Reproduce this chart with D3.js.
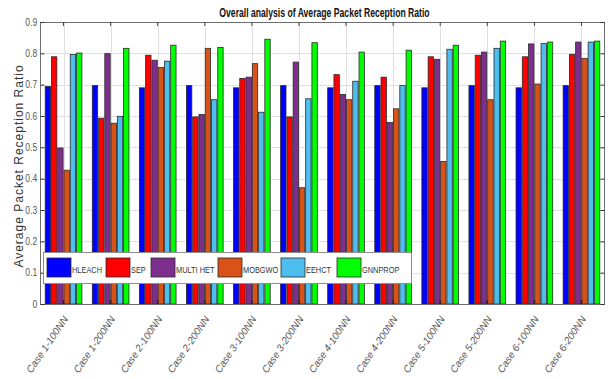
<!DOCTYPE html>
<html>
<head>
<meta charset="utf-8">
<script src="https://cdn.jsdelivr.net/npm/d3@7"></script>
<style>
  body { margin: 0; background: #fff; }
  svg { display: block; }
</style>
</head>
<body>
<svg id="chart" width="611" height="379"></svg>
<script>
// Scenario labels along the x axis
const categories = [
  "Case 1-100NN", "Case 1-200NN", "Case 2-100NN", "Case 2-200NN",
  "Case 3-100NN", "Case 3-200NN", "Case 4-100NN", "Case 4-200NN",
  "Case 5-100NN", "Case 5-200NN", "Case 6-100NN", "Case 6-200NN"
];

// Protocol names (legend order)
const seriesNames = ["HLEACH", "SEP", "MULTI HET", "MOBGWO", "EEHCT", "GNNPROP"];

// Average packet reception ratio per protocol, one value per scenario
const hleach  = [0.694, 0.697, 0.690, 0.697, 0.690, 0.697, 0.690, 0.697, 0.690, 0.697, 0.690, 0.697];
const sep     = [0.789, 0.593, 0.794, 0.597, 0.720, 0.597, 0.732, 0.724, 0.789, 0.794, 0.789, 0.797];
const multiHet= [0.498, 0.799, 0.778, 0.605, 0.724, 0.772, 0.669, 0.579, 0.781, 0.804, 0.830, 0.836];
const mobgwo  = [0.427, 0.577, 0.755, 0.816, 0.767, 0.371, 0.652, 0.623, 0.455, 0.652, 0.702, 0.784];
const eehct   = [0.796, 0.599, 0.775, 0.652, 0.612, 0.655, 0.711, 0.697, 0.813, 0.816, 0.831, 0.836];
const gnnprop = [0.801, 0.816, 0.826, 0.819, 0.845, 0.834, 0.804, 0.810, 0.826, 0.839, 0.836, 0.839];

const seriesValues = [hleach, sep, multiHet, mobgwo, eehct, gnnprop];
const seriesColors = ["#0000ff", "#ff0000", "#7e2f8e", "#d95319", "#4dbeee", "#00ff00"];

// Y axis ticks
const yTicks = [0, 0.1, 0.2, 0.3, 0.4, 0.5, 0.6, 0.7, 0.8, 0.9];

const titleText = "Overall analysis of Average Packet Reception Ratio";
const yLabelText = "Average Packet Reception Ratio";

// Plot frame
const plot = { left: 40, right: 605, top: 22, bottom: 304 };
const sans = "'Liberation Sans', Arial, sans-serif";

const svg = d3.select("#chart");

const xGroup = d3.scaleBand()
  .domain(categories)
  .range([plot.left, plot.right])
  .padding(0);

const xSeries = d3.scaleBand()
  .domain(seriesNames)
  .range([0, xGroup.bandwidth()])
  .paddingInner(0.14)
  .paddingOuter(0.83);

const y = d3.scaleLinear()
  .domain([0, 0.9])
  .range([plot.bottom, plot.top]);

const groupCenter = c => xGroup(c) + xGroup.bandwidth() / 2;

// Grid
const grid = svg.append("g").attr("class", "grid");
grid.selectAll("line.h")
  .data(yTicks.slice(1, -1))
  .join("line")
  .attr("class", "h")
  .attr("x1", plot.left).attr("x2", plot.right)
  .attr("y1", d => Math.round(y(d)) + 0.5).attr("y2", d => Math.round(y(d)) + 0.5)
  .attr("stroke", "#e0e0e0").attr("stroke-width", 1);
grid.selectAll("line.v")
  .data(categories)
  .join("line")
  .attr("class", "v")
  .attr("x1", d => Math.round(groupCenter(d)) + 0.5).attr("x2", d => Math.round(groupCenter(d)) + 0.5)
  .attr("y1", plot.top).attr("y2", plot.bottom)
  .attr("stroke", "#e0e0e0").attr("stroke-width", 1);

// Bars
const groups = svg.append("g").attr("class", "bars")
  .selectAll("g")
  .data(categories)
  .join("g")
  .attr("transform", d => `translate(${xGroup(d)},0)`);

groups.selectAll("rect")
  .data((c, i) => seriesNames.map((s, k) => ({ s, k, v: seriesValues[k][i] })))
  .join("rect")
  .attr("x", d => xSeries(d.s))
  .attr("width", xSeries.bandwidth())
  .attr("y", d => y(d.v))
  .attr("height", d => y(0) - y(d.v))
  .attr("fill", d => seriesColors[d.k])
  .attr("stroke", "#2a2a2a")
  .attr("stroke-width", 0.8);

// Axis box and ticks
const axes = svg.append("g").attr("class", "axes");
axes.append("rect")
  .attr("x", plot.left + 0.5).attr("y", plot.top + 0.5)
  .attr("width", plot.right - plot.left - 1).attr("height", plot.bottom - plot.top)
  .attr("fill", "none").attr("stroke", "#6e6e6e").attr("stroke-width", 1);

const yAxisLeft = d3.axisLeft(y).tickValues(yTicks).tickFormat(d3.format("")).tickSizeInner(-4).tickSizeOuter(0).tickPadding(4);
const gy = axes.append("g").attr("transform", `translate(${plot.left + 0.5},0)`).call(yAxisLeft);
gy.select(".domain").remove();
gy.selectAll(".tick line").attr("stroke", "#333");
gy.selectAll(".tick text")
  .attr("font-family", sans).attr("font-size", 10).attr("fill", "#555")
  .attr("transform", "scale(0.85,1)");

const yAxisRight = d3.axisRight(y).tickValues(yTicks).tickFormat("").tickSizeInner(-4).tickSizeOuter(0);
const gyr = axes.append("g").attr("transform", `translate(${plot.right - 0.5},0)`).call(yAxisRight);
gyr.select(".domain").remove();
gyr.selectAll(".tick line").attr("stroke", "#333");

// bottom and top tick marks at group centres
axes.selectAll("line.bt")
  .data(categories)
  .join("line")
  .attr("class", "bt")
  .attr("x1", d => groupCenter(d)).attr("x2", d => groupCenter(d))
  .attr("y1", plot.bottom).attr("y2", plot.bottom - 4)
  .attr("stroke", "#222").attr("stroke-width", 1.2);
axes.selectAll("line.tt")
  .data(categories)
  .join("line")
  .attr("class", "tt")
  .attr("x1", d => groupCenter(d)).attr("x2", d => groupCenter(d))
  .attr("y1", plot.top).attr("y2", plot.top + 4)
  .attr("stroke", "#444").attr("stroke-width", 1);

// Rotated category labels
svg.append("g").attr("class", "xlabels")
  .selectAll("text")
  .data(categories)
  .join("text")
  .attr("transform", d => `translate(${groupCenter(d) + 5},${plot.bottom + 15}) rotate(-56)`)
  .attr("text-anchor", "end")
  .attr("font-family", sans)
  .attr("font-style", "italic")
  .attr("font-size", 10)
  .attr("fill", "#555")
  .text(d => d);

// Title
svg.append("text")
  .attr("transform", `translate(${(plot.left + plot.right) / 2 + 2},16.5) scale(0.72,1)`)
  .attr("text-anchor", "middle")
  .attr("font-family", sans)
  .attr("font-weight", "bold")
  .attr("font-size", 12)
  .attr("fill", "#111")
  .text(titleText);

// Y label
svg.append("text")
  .attr("transform", `translate(23,166) rotate(-90)`)
  .attr("text-anchor", "middle")
  .attr("font-family", sans)
  .attr("font-size", 12)
  .attr("letter-spacing", 1)
  .attr("fill", "#333")
  .text(yLabelText);

// Legend
const legend = svg.append("g").attr("class", "legend");
const legendBox = { x: 43, y: 252, w: 368, h: 31 };
legend.append("rect")
  .attr("x", legendBox.x + 0.5).attr("y", legendBox.y + 0.5)
  .attr("width", legendBox.w).attr("height", legendBox.h)
  .attr("fill", "#fff").attr("stroke", "#8c8c8c").attr("stroke-width", 1);

const legendOffsets = [0, 59, 104, 171, 234, 290];
const items = legend.selectAll("g.item")
  .data(seriesNames)
  .join("g")
  .attr("class", "item")
  .attr("transform", (d, i) => `translate(${legendBox.x + 4 + legendOffsets[i]},${legendBox.y + 6})`);
items.append("rect")
  .attr("width", 24).attr("height", 19)
  .attr("fill", (d, i) => seriesColors[i])
  .attr("stroke", "#2a2a2a").attr("stroke-width", 0.8);
items.append("text")
  .attr("transform", "translate(25,14.5) scale(0.78,1)")
  .attr("font-family", sans)
  .attr("font-size", 9.5)
  .attr("fill", "#333")
  .text(d => d);
</script>
</body>
</html>
